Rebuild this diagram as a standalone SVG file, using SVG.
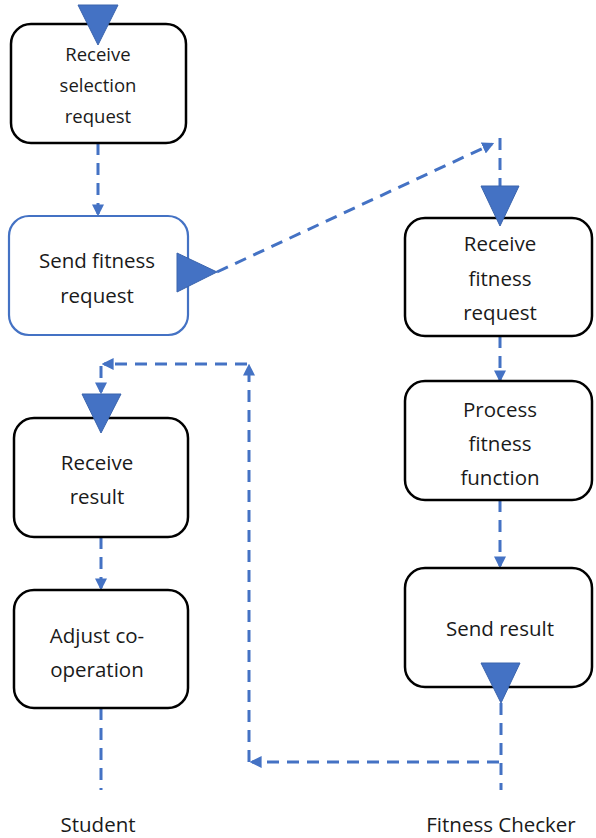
<svg xmlns="http://www.w3.org/2000/svg" width="596" height="838" viewBox="0 0 596 838">
  <style>
    .box { fill: #ffffff; stroke: #000000; stroke-width: 2.5; }
    .box-blue { fill: #ffffff; stroke: #4472C4; stroke-width: 2.2; }
    .label { font-family: "Open Sans", "Liberation Sans", sans-serif; font-size: 20.5px; fill: #1a1a1a; text-anchor: middle; }
    .small { font-size: 18.5px; }
    .flow { fill: none; stroke: #4472C4; stroke-width: 3; stroke-dasharray: 12 8; }
    .tri { fill: #4472C4; stroke: #3a64ad; stroke-width: 1; }
  </style>
  <defs>
    <marker id="head" markerWidth="4" markerHeight="4" refX="3.2" refY="2" orient="auto" markerUnits="strokeWidth">
      <path d="M0,0 L4,2 L0,4 Z" fill="#4472C4"/>
    </marker>
  </defs>

  <!-- connectors -->
  <g id="connectors">
    <path class="flow" d="M98,143 L98,214" marker-end="url(#head)"/>
    <path class="flow" d="M217,272 L492,144" marker-end="url(#head)"/>
    <path class="flow" d="M500,138 L500,186"/>
    <path class="flow" d="M500,336 L500,380" marker-end="url(#head)"/>
    <path class="flow" d="M500,500 L500,566" marker-end="url(#head)"/>
    <path class="flow" d="M501,703 L501,790"/>
    <path class="flow" d="M499,762 L252,762" marker-end="url(#head)"/>
    <path class="flow" d="M249,762 L249,366" marker-end="url(#head)"/>
    <path class="flow" d="M247,364 L104,364" marker-end="url(#head)"/>
    <path class="flow" d="M101,366 L101,392" marker-end="url(#head)"/>
    <path class="flow" d="M101,537 L101,588" marker-end="url(#head)"/>
    <path class="flow" d="M101,708 L101,790"/>
  </g>

  <!-- student lane -->
  <g id="receive-selection">
    <rect class="box" x="11" y="24" width="175" height="119" rx="20"/>
    <text class="label small" x="98" y="61">Receive</text>
    <text class="label small" x="98" y="92">selection</text>
    <text class="label small" x="98" y="123">request</text>
    <polygon class="tri" points="78,5 118,5 98,45"/>
  </g>

  <g id="send-fitness">
    <rect class="box-blue" x="9" y="216" width="179" height="119" rx="20"/>
    <text class="label" x="97" y="268">Send fitness</text>
    <text class="label" x="97" y="303">request</text>
    <polygon class="tri" points="177,253 177,292 217,272"/>
  </g>

  <g id="receive-result">
    <rect class="box" x="14" y="418" width="174" height="119" rx="20"/>
    <text class="label" x="97" y="470">Receive</text>
    <text class="label" x="97" y="504">result</text>
    <polygon class="tri" points="82,394 121,394 101,433"/>
  </g>

  <g id="adjust-cooperation">
    <rect class="box" x="14" y="590" width="174" height="118" rx="20"/>
    <text class="label" x="97" y="643">Adjust co-</text>
    <text class="label" x="97" y="677">operation</text>
  </g>

  <!-- fitness checker lane -->
  <g id="receive-fitness">
    <rect class="box" x="405" y="218" width="187" height="118" rx="20"/>
    <text class="label" x="500" y="251">Receive</text>
    <text class="label" x="500" y="286">fitness</text>
    <text class="label" x="500" y="320">request</text>
    <polygon class="tri" points="481,186 519,186 500,226"/>
  </g>

  <g id="process-fitness">
    <rect class="box" x="405" y="381" width="187" height="119" rx="20"/>
    <text class="label" x="500" y="417">Process</text>
    <text class="label" x="500" y="451">fitness</text>
    <text class="label" x="500" y="485">function</text>
  </g>

  <g id="send-result">
    <rect class="box" x="405" y="568" width="187" height="119" rx="20"/>
    <text class="label" x="500" y="636">Send result</text>
    <polygon class="tri" points="481,663 520,663 501,703"/>
  </g>

  <!-- lane captions -->
  <g id="captions">
    <text class="label" x="98" y="832">Student</text>
    <text class="label" x="501" y="832">Fitness Checker</text>
  </g>
</svg>
